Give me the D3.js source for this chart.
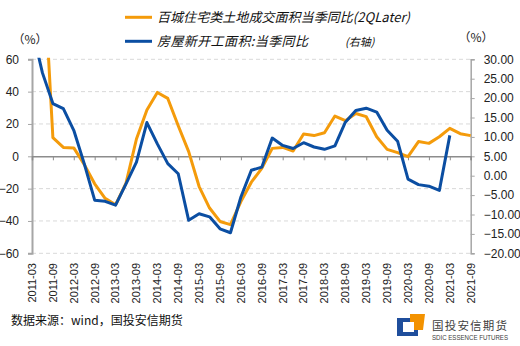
<!DOCTYPE html>
<html>
<head>
<meta charset="utf-8">
<title>百城土地成交与新开工面积</title>
<style>
body { margin: 0; padding: 0; background: #fff; }
svg { display: block; font-family: "Liberation Sans", Arial, sans-serif; }
.cjk { font-family: "Noto Sans CJK SC", sans-serif; }
</style>
<script src="https://cdn.jsdelivr.net/npm/d3@7"></script>
</head>
<body>
<svg id="chart" width="520" height="346"></svg>
<script>
// quarterly categories, 2011-03 .. 2021-09
const quarters = [
  "2011-03","2011-06","2011-09","2011-12","2012-03","2012-06","2012-09","2012-12",
  "2013-03","2013-06","2013-09","2013-12","2014-03","2014-06","2014-09","2014-12",
  "2015-03","2015-06","2015-09","2015-12","2016-03","2016-06","2016-09","2016-12",
  "2017-03","2017-06","2017-09","2017-12","2018-03","2018-06","2018-09","2018-12",
  "2019-03","2019-06","2019-09","2019-12","2020-03","2020-06","2020-09","2020-12",
  "2021-03","2021-06","2021-09"
];
// 百城住宅类土地成交面积当季同比(2QLater), left axis
const landArea = [
  95, 130, 11.5, 5.5, 5.2, -5, -17, -26,
  -30, -16.6, 10.7, 28.6, 39.5, 35.8, 18.9, 2.9,
  -18.7, -32, -40.3, -42.3, -28, -16, -7.5, 4.9,
  5.5, 3.3, 13.8, 12.8, 14.6, 24.9, 22, 26.5,
  24.5, 12.1, 4.3, 2.3, -0.2, 9.1, 8.0, 12.1,
  17.3, 14, 12.8
];
// 房屋新开工面积:当季同比, right axis
const newStarts = [
  38, 26.5, 18.6, 17.3, 11.7, 3.1, -6.3, -6.6,
  -7.6, -2.1, 3.5, 13.7, 8.2, 3.1, 0.5, -11.5,
  -9.8, -10.6, -13.7, -14.7, -5.5, 1.4, 2.2, 9.7,
  7.8, 7.0, 8.5, 7.4, 6.8, 7.7, 13.8, 16.8,
  17.4, 16.4, 11.7, 8.9, -0.9, -2.3, -2.7, -3.8,
  10.4, null, null
];
const leftTicks = [60, 40, 20, 0, -20, -40, -60];
const rightTicks = [30, 25, 20, 15, 10, 5, 0, -5, -10, -15, -20];
const xLabels = quarters.filter((d, i) => i % 2 === 0);

const orange = "#F49B0B", blue = "#0B4EA2";
const L = 32, R = 470.7, T = 59.3, B = 253.3;

const svg = d3.select("#chart");
const x = d3.scalePoint().domain(quarters).range([L, R]);
const yL = d3.scaleLinear().domain([-60, 60]).range([B, T]);
const yR = d3.scaleLinear().domain([-20, 30]).range([B, T]);

// dashed grid
svg.append("g").selectAll("line")
  .data(leftTicks.filter(d => d !== 0))
  .join("line")
  .attr("x1", L).attr("x2", R)
  .attr("y1", d => yL(d)).attr("y2", d => yL(d))
  .attr("stroke", "#d9d9d9").attr("stroke-dasharray", "4,3");

// left axis
const gL = svg.append("g").attr("transform", `translate(${L},0)`)
  .call(d3.axisLeft(yL).tickValues(leftTicks).tickSize(4).tickPadding(9).tickFormat(d3.format("d")));
gL.select(".domain").attr("stroke", "#a6a6a6").attr("stroke-width", 2);
gL.selectAll(".tick line").attr("stroke", "#a6a6a6");
gL.selectAll("text").attr("font-size", 12).attr("fill", "#222")
  .attr("font-family", "Liberation Sans, Arial, sans-serif");

// right axis
const gR = svg.append("g").attr("transform", `translate(${R},0)`)
  .call(d3.axisRight(yR).tickValues(rightTicks).tickSize(4).tickPadding(9).tickFormat(d3.format(".2f")));
gR.select(".domain").attr("stroke", "#a6a6a6").attr("stroke-width", 1.5);
gR.selectAll(".tick line").attr("stroke", "#a6a6a6");
gR.selectAll("text").attr("font-size", 12).attr("fill", "#222")
  .attr("font-family", "Liberation Sans, Arial, sans-serif");

// zero line with category ticks
const gX = svg.append("g").attr("transform", `translate(0,${yL(0)})`)
  .call(d3.axisBottom(x).tickValues(xLabels).tickSize(4).tickFormat(""));
gX.select(".domain").attr("stroke", "#8c8c8c").attr("stroke-width", 1.5);
gX.selectAll(".tick line").attr("stroke", "#8c8c8c");

// rotated x labels at bottom
svg.append("g").selectAll("text")
  .data(xLabels)
  .join("text")
  .attr("transform", d => `translate(${x(d)},263) rotate(-90)`)
  .attr("text-anchor", "end")
  .attr("dy", "0.35em")
  .attr("font-size", 11)
  .attr("fill", "#222")
  .text(d => d);

// lines
svg.append("clipPath").attr("id", "plot")
  .append("rect").attr("x", L).attr("y", T - 1.5).attr("width", R - L + 2).attr("height", B - T + 3);

const lineL = d3.line().defined(d => d != null).x((d, i) => x(quarters[i])).y(d => yL(d));
const lineR = d3.line().defined(d => d != null).x((d, i) => x(quarters[i])).y(d => yR(d));

svg.append("path").datum(landArea)
  .attr("clip-path", "url(#plot)")
  .attr("d", lineL).attr("fill", "none")
  .attr("stroke", orange).attr("stroke-width", 3).attr("stroke-linejoin", "round");
svg.append("path").datum(newStarts)
  .attr("clip-path", "url(#plot)")
  .attr("d", lineR).attr("fill", "none")
  .attr("stroke", blue).attr("stroke-width", 3).attr("stroke-linejoin", "round");

// legend
const legend = [
  { name: "百城住宅类土地成交面积当季同比(2QLater)", color: orange, y: 17.3, w: 253 },
  { name: "房屋新开工面积:当季同比", color: blue, y: 41.3, w: 151 }
];
legend.forEach(d => {
  svg.append("line").attr("x1", 125).attr("x2", 152).attr("y1", d.y).attr("y2", d.y)
    .attr("stroke", d.color).attr("stroke-width", 3);
  svg.append("text").attr("class", "cjk").attr("x", 157).attr("y", d.y).attr("dy", "0.36em")
    .attr("font-size", 13).attr("font-style", "italic").attr("fill", "#111")
    .attr("textLength", d.w).attr("lengthAdjust", "spacing")
    .text(d.name);
});
svg.append("text").attr("class", "cjk").attr("x", 345).attr("y", 42).attr("dy", "0.36em")
  .attr("font-size", 11).attr("font-style", "italic").attr("fill", "#111").text("(右轴)");

// unit labels
svg.append("text").attr("class", "cjk").attr("x", 30).attr("y", 40).attr("dy", "0.36em")
  .attr("text-anchor", "middle").attr("font-size", 12).attr("fill", "#222").text("（%）");
svg.append("text").attr("class", "cjk").attr("x", 476).attr("y", 38).attr("dy", "0.36em")
  .attr("text-anchor", "middle").attr("font-size", 12).attr("fill", "#222").text("（%）");

// source
svg.append("text").attr("class", "cjk").attr("x", 11).attr("y", 321).attr("dy", "0.36em")
  .attr("font-size", 12).attr("fill", "#111").text("数据来源：wind，国投安信期货");

// logo
const logo = svg.append("g");
logo.append("path").attr("fill", "#1f4e9c")
  .attr("d", "M397,318 H410 V322 H403 V332 H414 V326 H418 V336 H397 Z");
logo.append("path").attr("fill", "#f39200")
  .attr("d", "M410,314 H425 L423,330 H414 V322 H410 Z");
logo.append("text").attr("class", "cjk").attr("x", 432).attr("y", 326).attr("dy", "0.36em")
  .attr("font-size", 11.5).attr("fill", "#404040")
  .attr("textLength", 75).attr("lengthAdjust", "spacing").text("国投安信期货");
logo.append("text").attr("x", 432).attr("y", 337.5).attr("dy", "0.36em")
  .attr("font-size", 6.5).attr("fill", "#404040")
  .attr("textLength", 76).attr("lengthAdjust", "spacingAndGlyphs").text("SDIC ESSENCE FUTURES");
</script>
</body>
</html>
